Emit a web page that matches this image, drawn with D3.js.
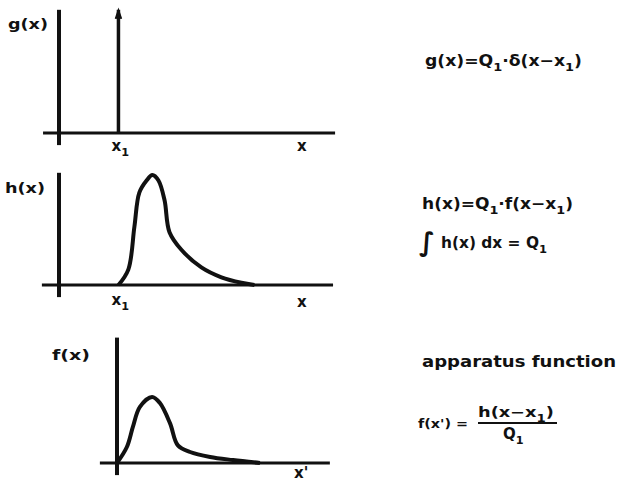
<!DOCTYPE html>
<html>
<head>
<meta charset="utf-8">
<script src="https://cdn.jsdelivr.net/npm/d3@7"></script>
<style>
  body { margin: 0; background: #fff; }
  text { font-family: "DejaVu Sans", sans-serif; font-weight: bold; fill: #111; }
</style>
</head>
<body>
<svg id="chart" width="626" height="482"></svg>
<script>
// position of the delta source on the x axis
const x1 = 2.05;
const deltaQ = 1.12;

// h(x): offset from x1 and height
const hOffset = [0, 0.34, 0.55, 0.72, 0.97, 1.17, 1.38, 1.59, 1.76, 2.17, 2.86, 3.55, 4.24, 4.69];
const hValue = [0, 0.14, 0.53, 0.84, 0.95, 1, 0.95, 0.77, 0.48, 0.32, 0.16, 0.07, 0.02, 0];

// f(x'): apparatus function
const fOffset = [0, 0.34, 0.55, 0.79, 1.21, 1.48, 1.83, 2.1, 2.52, 3.21, 4.0, 4.93];
const fValue = [0, 0.145, 0.33, 0.51, 0.6, 0.545, 0.36, 0.16, 0.1, 0.055, 0.027, 0];

const axisNames = ["g(x)", "h(x)", "f(x)"];
const xNames = ["x", "x", "x'"];

const svg = d3.select("#chart");

const panels = [
  { base: 133, x0: 59, xExt: [-0.55, 9.52], yExt: [-0.11, 1.12] },
  { base: 285, x0: 59, xExt: [-0.59, 9.45], yExt: [-0.11, 1.02] },
  { base: 463, x0: 117, xExt: [-0.59, 7.34], yExt: [-0.11, 1.14] }
];

panels.forEach((p) => {
  p.x = d3.scaleLinear().domain([0, 10]).range([p.x0, p.x0 + 290]);
  p.y = d3.scaleLinear().domain([0, 1]).range([p.base, p.base - 110]);
});

function drawAxes(p) {
  const g = svg.append("g");
  g.append("line")
    .attr("x1", p.x(p.xExt[0])).attr("x2", p.x(p.xExt[1]))
    .attr("y1", p.y(0)).attr("y2", p.y(0))
    .attr("stroke", "#111").attr("stroke-width", 3);
  g.append("line")
    .attr("x1", p.x(0)).attr("x2", p.x(0))
    .attr("y1", p.y(p.yExt[0])).attr("y2", p.y(p.yExt[1]))
    .attr("stroke", "#111").attr("stroke-width", 4);
}

panels.forEach(drawAxes);

// panel 1: delta spike at x1
const p1 = panels[0];
svg.append("line")
  .attr("x1", p1.x(x1)).attr("x2", p1.x(x1))
  .attr("y1", p1.y(0)).attr("y2", p1.y(deltaQ))
  .attr("stroke", "#111").attr("stroke-width", 3.5);
svg.append("path")
  .attr("d", d3.line()([
    [p1.x(x1) - 3, p1.y(deltaQ) + 9],
    [p1.x(x1), p1.y(deltaQ)],
    [p1.x(x1) + 3, p1.y(deltaQ) + 9]
  ]))
  .attr("fill", "#111").attr("stroke", "#111").attr("stroke-width", 1.5);

// panel 2: h(x)
const p2 = panels[1];
const hLine = d3.line()
  .x((d, i) => p2.x(x1 + hOffset[i]))
  .y((d) => p2.y(d))
  .curve(d3.curveCatmullRom);
svg.append("path")
  .attr("d", hLine(hValue))
  .attr("fill", "none").attr("stroke", "#111").attr("stroke-width", 4)
  .attr("stroke-linejoin", "round");

// panel 3: f(x')
const p3 = panels[2];
const fLine = d3.line()
  .x((d, i) => p3.x(fOffset[i]))
  .y((d) => p3.y(d))
  .curve(d3.curveCatmullRom);
svg.append("path")
  .attr("d", fLine(fValue))
  .attr("fill", "none").attr("stroke", "#111").attr("stroke-width", 4)
  .attr("stroke-linejoin", "round");

// formulas with subscripts: parts starting with "_" are subscripts
function formula(x, y, parts, size, width) {
  const t = svg.append("text").attr("x", x).attr("y", y).attr("font-size", size);
  let down = false;
  parts.forEach((s) => {
    if (s.startsWith("_")) {
      t.append("tspan").attr("dy", down ? 0 : 5).attr("font-size", size * 0.75).text(s.slice(1));
      down = true;
    } else {
      t.append("tspan").attr("dy", down ? -5 : 0).text(s);
      down = false;
    }
  });
  if (width) t.attr("textLength", width).attr("lengthAdjust", "spacingAndGlyphs");
  return t;
}

// axis names
const nameAt = [[8, 29], [5, 193], [52, 360]];
axisNames.forEach((t, i) => {
  formula(nameAt[i][0], nameAt[i][1], [t], 14, i === 2 ? 38 : 40);
});
const xNameAt = [[297, 151], [297, 307], [294, 478]];
xNames.forEach((t, i) => {
  formula(xNameAt[i][0], xNameAt[i][1], [t], 15);
});

// x1 labels
[[p1, 151], [p2, 305]].forEach(([p, y]) => {
  formula(p.x(x1) - 7, y, ["x", "_1"], 15);
});

// formulas on the right
formula(425, 66, ["g(x)=Q", "_1", "·δ(x−x", "_1", ")"], 15, 157);
formula(422, 209, ["h(x)=Q", "_1", "·f(x−x", "_1", ")"], 15, 151);
formula(441, 248, ["h(x) dx = Q", "_1"], 15, 106);
svg.append("text").attr("x", 419).attr("y", 251).attr("font-size", 26)
  .attr("font-weight", "normal").text("∫");
formula(422, 367, ["apparatus function"], 16, 194);

formula(418, 428, ["f(x') ="], 13, 50);
formula(478, 417, ["h(x−x", "_1", ")"], 14, 76);
svg.append("line").attr("x1", 478).attr("x2", 557).attr("y1", 423).attr("y2", 423)
  .attr("stroke", "#111").attr("stroke-width", 2);
formula(503, 439, ["Q", "_1"], 15);
</script>
</body>
</html>
